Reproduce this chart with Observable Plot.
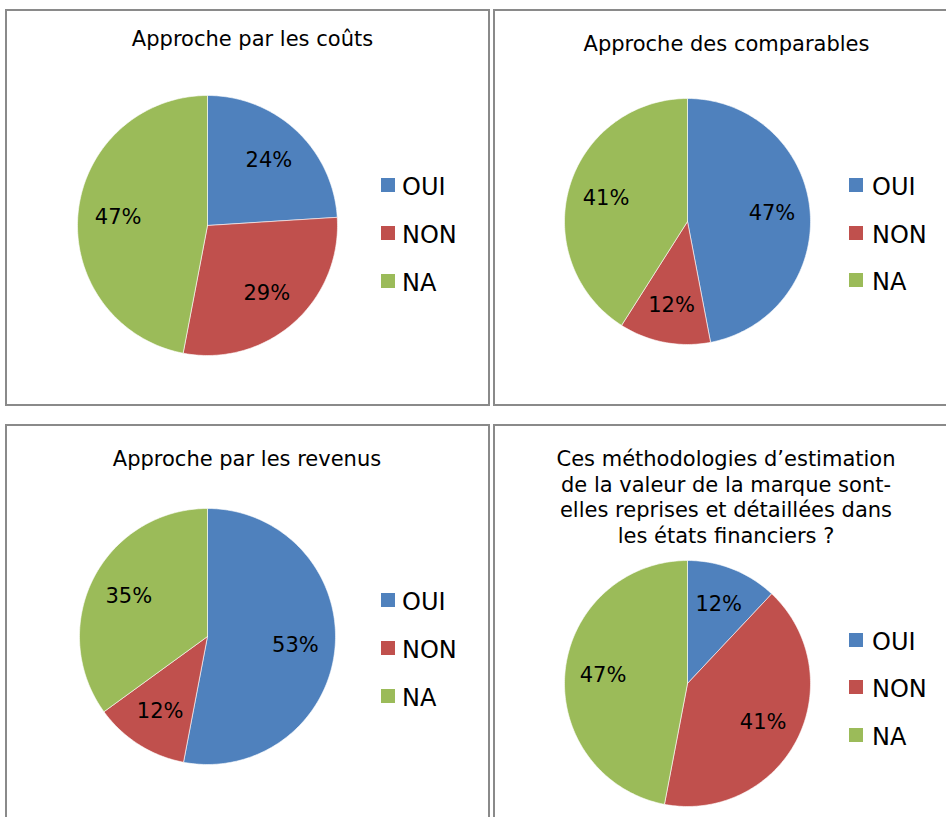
<!DOCTYPE html>
<html>
<head>
<meta charset="utf-8">
<script src="https://cdn.jsdelivr.net/npm/d3@7"></script>
<script src="https://cdn.jsdelivr.net/npm/@observablehq/plot@0.6"></script>
<style>
  html, body { margin: 0; padding: 0; background: #fff; }
  #page { position: relative; width: 946px; height: 817px; overflow: hidden; background: #fff;
          font-family: "DejaVu Sans", Verdana, sans-serif; color: #000; }
  .panel { position: absolute; border: 2px solid #8a8a8a; box-sizing: border-box; background: #fff; }
  .title { position: absolute; text-align: center; font-size: 21px; line-height: 25.7px; white-space: nowrap; }
  .lg-sw { position: absolute; width: 14px; height: 14px; }
  .lg-tx { position: absolute; font-size: 24px; line-height: 24px; white-space: nowrap; }
  .pie { position: absolute; }
</style>
</head>
<body>
<div id="page"></div>
<script>
// ---------------- data ----------------
const categories = ["OUI", "NON", "NA"];
const colors = ["#4F81BD", "#C0504D", "#9BBB59"];

const titleCouts = ["Approche par les coûts"];
const titleComparables = ["Approche des comparables"];
const titleRevenus = ["Approche par les revenus"];
const titleEtats = [
  "Ces méthodologies d’estimation",
  "de la valeur de la marque sont-",
  "elles reprises et détaillées dans",
  "les états financiers ?"
];

const valuesCouts = [24, 29, 47];
const valuesComparables = [47, 12, 41];
const valuesRevenus = [53, 12, 35];
const valuesEtats = [12, 41, 47];

// ---------------- layout ----------------
const panels = [
  { title: titleCouts, values: valuesCouts,
    box: [5, 9, 485, 397], cx: 207, cy: 225, r: 130, titleX: 252.5, titleBase: 47,
    lgSwX: 381, lgTxX: 402, lgY: [185, 233, 281] },
  { title: titleComparables, values: valuesComparables,
    box: [493, 9, 470, 397], cx: 687, cy: 221, r: 123, titleX: 726.5, titleBase: 52,
    lgSwX: 849, lgTxX: 872, lgY: [185, 233, 280] },
  { title: titleRevenus, values: valuesRevenus,
    box: [5, 424, 485, 420], cx: 207, cy: 636, r: 128, titleX: 247, titleBase: 467,
    lgSwX: 381, lgTxX: 402, lgY: [600, 648, 696] },
  { title: titleEtats, values: valuesEtats,
    box: [493, 424, 470, 420], cx: 687, cy: 682.5, r: 123, titleX: 726, titleBase: 467,
    lgSwX: 849, lgTxX: 872, lgY: [640, 687, 735] }
];

const page = document.getElementById("page");

function el(tag, cls, style, text) {
  const e = document.createElement(tag);
  if (cls) e.className = cls;
  Object.assign(e.style, style || {});
  if (text != null) e.textContent = text;
  page.appendChild(e);
  return e;
}

function slices(values) {
  const arcs = d3.pie().sort(null).value(d => d)(values);
  const pts = [];
  const labels = [];
  arcs.forEach((a, i) => {
    const key = categories[i];
    pts.push({ key, x: 0, y: 0 });
    const n = Math.max(2, Math.ceil((a.endAngle - a.startAngle) / (Math.PI / 180)));
    for (let k = 0; k <= n; k++) {
      const t = a.startAngle + (a.endAngle - a.startAngle) * k / n;
      pts.push({ key, x: Math.sin(t), y: Math.cos(t) });
    }
    pts.push({ key, x: 0, y: 0 });
    const m = (a.startAngle + a.endAngle) / 2;
    const lr = 0.69;
    labels.push({ key, x: lr * Math.sin(m), y: lr * Math.cos(m), text: `${values[i]}%` });
  });
  return { pts, labels };
}

panels.forEach(p => {
  const [bx, by, bw, bh] = p.box;
  el("div", "panel", { left: bx + "px", top: by + "px", width: bw + "px", height: bh + "px" });

  // title (baseline offset for 21px DejaVu Sans with 25.7px line height)
  const baseOff = (25.7 - 21 * 1.164) / 2 + 21 * 0.928;
  el("div", "title", {
    left: (p.titleX - 250) + "px", width: "500px",
    top: (p.titleBase - baseOff) + "px"
  }).innerHTML = p.title.map(t => t.replace(/&/g, "&amp;")).join("<br>");

  // pie
  const m = 12;
  const { pts, labels } = slices(p.values);
  const chart = Plot.plot({
    width: 2 * p.r + 2 * m,
    height: 2 * p.r + 2 * m,
    margin: m,
    x: { domain: [-1, 1], axis: null },
    y: { domain: [-1, 1], axis: null },
    color: { domain: categories, range: colors },
    style: { fontFamily: "DejaVu Sans, Verdana, sans-serif", background: "transparent", overflow: "visible" },
    marks: [
      Plot.line(pts, { x: "x", y: "y", z: "key", fill: "key", stroke: "white", strokeWidth: 0.6, curve: "linear" }),
      Plot.text(labels, { x: "x", y: "y", text: "text", fontSize: 21, fill: "black" })
    ]
  });
  chart.classList.add("pie");
  chart.style.left = (p.cx - p.r - m) + "px";
  chart.style.top = (p.cy - p.r - m) + "px";
  chart.style.position = "absolute";
  page.appendChild(chart);

  // legend
  const tBase = 24 * 0.928 + (24 - 24 * 1.164) / 2;
  categories.forEach((c, i) => {
    el("div", "lg-sw", { left: p.lgSwX + "px", top: (p.lgY[i] - 7) + "px", background: colors[i] });
    el("div", "lg-tx", { left: p.lgTxX + "px", top: (p.lgY[i] + 10 - tBase) + "px" }, c);
  });
});
</script>
</body>
</html>
